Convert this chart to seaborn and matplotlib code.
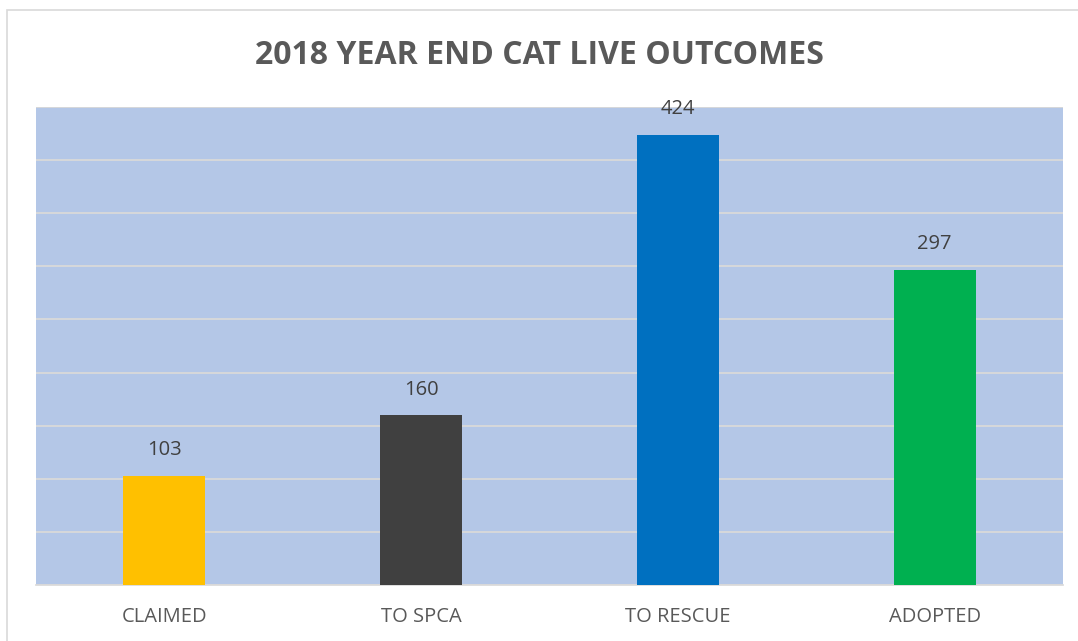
import seaborn as sns
import matplotlib.pyplot as plt
import pandas as pd
from matplotlib.patches import Rectangle

categories = ['CLAIMED', 'TO SPCA', 'TO RESCUE', 'ADOPTED']
outcomes = [103, 160, 424, 297]
bar_colors = ['#FFC000', '#404040', '#0070C0', '#00B050']

df = pd.DataFrame({'outcome': categories, 'count': outcomes})

sns.set_theme(style='white')
plt.rcParams['font.family'] = ['Open Sans', 'DejaVu Sans']

fig = plt.figure(figsize=(10.78, 6.41), dpi=100)
fig.patches.append(Rectangle((0.0065, -0.01), 1.2, 0.995, transform=fig.transFigure,
                             fill=False, edgecolor='#d9d9d9', linewidth=1.2))
ax = fig.add_axes([0.0334, 0.0874, 0.9527, 0.7456])
ax.set_facecolor('#B4C7E7')

sns.barplot(data=df, x='outcome', y='count', hue='outcome', palette=bar_colors,
            width=0.32, legend=False, saturation=1, linewidth=0, ax=ax, zorder=3)

ax.set_ylim(0, 450)
ax.set_yticks(range(0, 451, 50))
ax.yaxis.grid(True, color='#d9d9d9', linewidth=1.3, zorder=0)
ax.set_axisbelow(True)
ax.tick_params(axis='y', left=False, labelleft=False)
ax.tick_params(axis='x', bottom=False, labelsize=14.5, labelcolor='#595959', pad=10)
for s in ['top', 'right', 'left']:
    ax.spines[s].set_visible(False)
ax.spines['bottom'].set_color('#d9d9d9')
ax.set_xlabel('')
ax.set_ylabel('')

for c in ax.containers:
    ax.bar_label(c, padding=11, fontsize=14.5, color='#404040')

fig.text(0.5, 0.913, '2018 YEAR END CAT LIVE OUTCOMES', ha='center', va='center',
         fontsize=23, fontweight='bold', color='#595959')

fig.savefig('out.png', dpi=100)
